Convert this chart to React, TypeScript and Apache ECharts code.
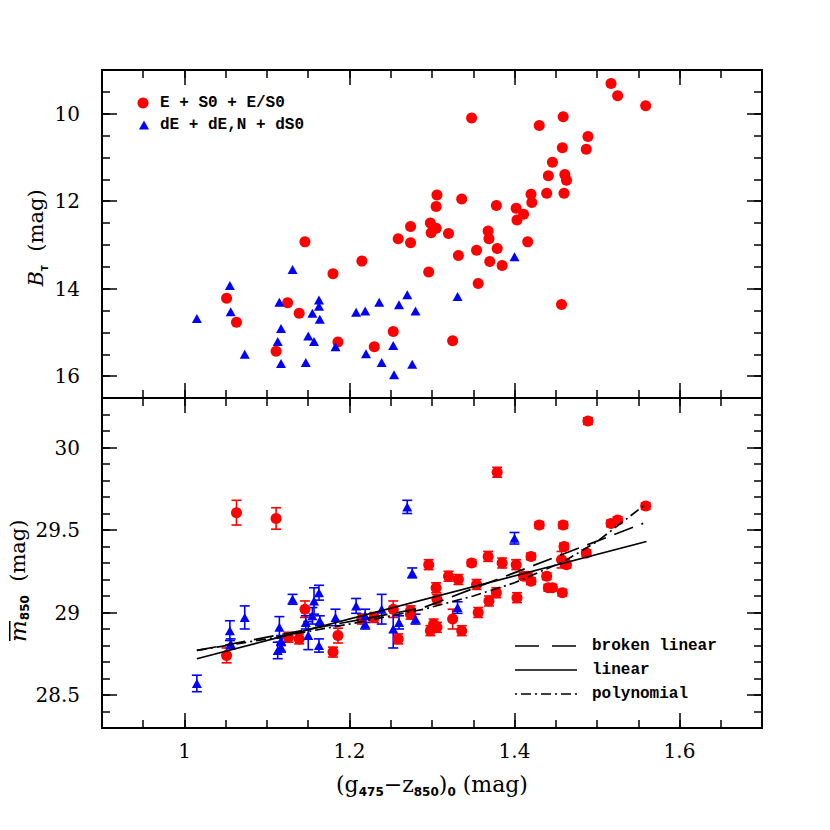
import React, { useEffect, useRef } from "react";
import * as echarts from "echarts";

// ---- tick values ----
const xMajorTicks = [1, 1.2, 1.4, 1.6];
const xMinorTicks = [0.95, 1.0, 1.05, 1.1, 1.15, 1.2, 1.25, 1.3, 1.35, 1.4, 1.45, 1.5, 1.55, 1.6, 1.65];
const btMajorTicks = [10, 12, 14, 16];
const btMinorTicks = [9.5, 10, 10.5, 11, 11.5, 12, 12.5, 13, 13.5, 14, 14.5, 15, 15.5, 16];
const mMajorTicks = [28.5, 29, 29.5, 30];
const mMinorTicks = [28.4, 28.5, 28.6, 28.7, 28.8, 28.9, 29.0, 29.1, 29.2, 29.3, 29.4, 29.5, 29.6, 29.7, 29.8, 29.9, 30.0, 30.1, 30.2];

// ---- top panel: B_T ----
const topRedX = [1.051, 1.063, 1.111, 1.125, 1.139, 1.146, 1.180, 1.186, 1.215, 1.230, 1.253, 1.259, 1.274, 1.274, 1.296, 1.298, 1.299, 1.305, 1.305, 1.306, 1.320, 1.325, 1.332, 1.336, 1.348, 1.354, 1.356, 1.368, 1.369, 1.370, 1.378, 1.379, 1.385, 1.402, 1.403, 1.411, 1.416, 1.420, 1.421, 1.430, 1.439, 1.441, 1.446, 1.457, 1.458, 1.459, 1.460, 1.461, 1.463, 1.487, 1.489, 1.517, 1.525, 1.559];
const topRedY = [14.22, 14.77, 15.43, 14.32, 14.56, 12.93, 13.66, 15.22, 13.37, 15.33, 14.98, 12.86, 12.58, 12.95, 13.62, 12.50, 12.72, 12.62, 12.12, 11.86, 12.74, 15.19, 13.24, 11.95, 10.10, 13.12, 13.88, 12.68, 12.86, 13.38, 12.10, 13.08, 13.47, 12.16, 12.43, 12.30, 12.93, 11.84, 12.03, 10.27, 11.82, 11.42, 11.11, 14.36, 10.78, 10.07, 11.82, 11.39, 11.52, 10.81, 10.52, 9.31, 9.59, 9.82];
const topBlueX = [1.015, 1.055, 1.056, 1.073, 1.113, 1.115, 1.117, 1.117, 1.131, 1.147, 1.150, 1.155, 1.157, 1.163, 1.163, 1.164, 1.183, 1.208, 1.219, 1.220, 1.236, 1.239, 1.253, 1.254, 1.260, 1.270, 1.276, 1.280, 1.331, 1.400];
const topBlueY = [14.68, 13.93, 14.53, 15.50, 15.21, 14.31, 14.91, 15.71, 13.56, 15.69, 15.08, 14.56, 15.21, 14.26, 14.40, 14.70, 15.33, 14.54, 14.51, 15.49, 14.31, 15.69, 15.30, 15.97, 14.37, 14.14, 15.73, 14.51, 14.18, 13.27];

// ---- bottom panel: m_850 ----
const botRedX = [1.051, 1.063, 1.111, 1.126, 1.139, 1.146, 1.180, 1.186, 1.215, 1.230, 1.253, 1.259, 1.274, 1.274, 1.296, 1.298, 1.302, 1.306, 1.305, 1.306, 1.320, 1.325, 1.332, 1.336, 1.348, 1.354, 1.356, 1.368, 1.369, 1.378, 1.379, 1.385, 1.402, 1.403, 1.411, 1.416, 1.420, 1.420, 1.430, 1.439, 1.441, 1.446, 1.457, 1.458, 1.459, 1.460, 1.461, 1.463, 1.487, 1.489, 1.517, 1.525, 1.559];
const botRedY = [28.74, 29.605, 29.57, 28.85, 28.84, 29.02, 28.76, 28.86, 28.96, 28.97, 29.02, 28.84, 29.01, 28.99, 29.29, 28.89, 28.93, 28.91, 29.15, 29.08, 29.22, 28.96, 29.20, 28.89, 29.30, 29.17, 29.00, 29.34, 29.07, 29.12, 29.85, 29.30, 29.29, 29.09, 29.22, 29.22, 29.34, 29.19, 29.53, 29.22, 29.15, 29.15, 29.32, 29.12, 29.53, 29.40, 29.30, 29.29, 29.36, 30.16, 29.54, 29.56, 29.645];
const botRedErr = [0.045, 0.075, 0.065, 0.03, 0.03, 0.05, 0.03, 0.045, 0.03, 0.03, 0.05, 0.03, 0.03, 0.03, 0.03, 0.03, 0.03, 0.03, 0.03, 0.03, 0.03, 0.06, 0.03, 0.03, 0.02, 0.03, 0.03, 0.03, 0.03, 0.03, 0.03, 0.03, 0.03, 0.03, 0.02, 0.02, 0.02, 0.02, 0.02, 0.02, 0.02, 0.02, 0.05, 0.02, 0.02, 0.02, 0.02, 0.02, 0.02, 0.02, 0.02, 0.02, 0.02];
const botBlueX = [1.015, 1.055, 1.056, 1.073, 1.113, 1.117, 1.115, 1.117, 1.131, 1.147, 1.150, 1.155, 1.157, 1.163, 1.164, 1.163, 1.183, 1.208, 1.219, 1.219, 1.239, 1.253, 1.260, 1.270, 1.276, 1.280, 1.331, 1.400];
const botBlueY = [28.57, 28.89, 28.81, 28.97, 28.77, 28.79, 28.91, 28.83, 29.08, 28.94, 28.86, 28.98, 29.07, 29.12, 28.95, 28.80, 28.97, 29.04, 28.98, 28.93, 29.02, 28.90, 28.94, 29.64, 29.24, 28.96, 29.03, 29.45];
const botBlueErr = [0.05, 0.06, 0.03, 0.07, 0.05, 0.03, 0.065, 0.03, 0.03, 0.04, 0.085, 0.05, 0.08, 0.045, 0.03, 0.04, 0.05, 0.045, 0.04, 0.03, 0.09, 0.115, 0.04, 0.04, 0.03, 0.03, 0.035, 0.035];

// ---- fit lines ----
const brokenX = [1.015, 1.29, 1.556];
const brokenY = [28.77, 29.03, 29.54];
const linearX = [1.015, 1.56];
const linearY = [28.72, 29.43];
const polyX = [1.015, 1.1, 1.2, 1.29, 1.35, 1.4, 1.46, 1.5, 1.56];
const polyY = [28.77, 28.84, 28.93, 29.02, 29.10, 29.18, 29.31, 29.43, 29.66];

const RED = "#ff0000";
const BLUE = "#0000ff";
const SERIF = "DejaVu Serif";
const MONO = "Liberation Mono";

const zip = (a: number[], b: number[]) => a.map((v, i) => [v, b[i]]);
const zip3 = (a: number[], b: number[], c: number[]) => a.map((v, i) => [v, b[i], c[i]]);

function makeAxis(
  dim: "x" | "y",
  gridIndex: number,
  position: string,
  min: number,
  max: number,
  ticks: number[],
  len: number,
  showLabel: boolean,
  inverse = false
) {
  return {
    type: "value",
    gridIndex,
    position,
    min,
    max,
    inverse,
    axisLine: { show: false, onZero: false },
    splitLine: { show: false },
    axisTick: {
      show: true,
      inside: true,
      length: len,
      customValues: ticks,
      lineStyle: { color: "#000", width: 1.5 },
    },
    axisLabel: showLabel
      ? {
          show: true,
          customValues: ticks,
          color: "#000",
          fontSize: 20,
          fontFamily: SERIF,
          margin: dim === "x" ? 13 : 22,
        }
      : { show: false },
  };
}

const errSeries = (data: number[][], color: string) => ({
  type: "custom",
  xAxisIndex: 4,
  yAxisIndex: 4,
  z: 2,
  data,
  encode: { x: 0, y: 1 },
  renderItem: (_p: any, api: any) => {
    const x = api.value(0);
    const y = api.value(1);
    const e = api.value(2);
    const p1 = api.coord([x, y + e]);
    const p2 = api.coord([x, y - e]);
    const hw = 5;
    const st = { stroke: color, lineWidth: 1.6 };
    return {
      type: "group",
      children: [
        { type: "line", shape: { x1: p1[0], y1: p1[1], x2: p2[0], y2: p2[1] }, style: st },
        { type: "line", shape: { x1: p1[0] - hw, y1: p1[1], x2: p1[0] + hw, y2: p1[1] }, style: st },
        { type: "line", shape: { x1: p2[0] - hw, y1: p2[1], x2: p2[0] + hw, y2: p2[1] }, style: st },
      ],
    };
  },
});

export default function App() {
  const ref = useRef<HTMLDivElement>(null);
  useEffect(() => {
    if (!ref.current) return;
    const chart = echarts.init(ref.current, undefined, { renderer: "svg" });

    const xAxes: any[] = [];
    const yAxes: any[] = [];
    [0, 1].forEach((g) => {
      xAxes.push(makeAxis("x", g, "bottom", 0.9, 1.7, xMajorTicks, 15, g === 1));
      xAxes.push(makeAxis("x", g, "bottom", 0.9, 1.7, xMinorTicks, 8, false));
      xAxes.push(makeAxis("x", g, "top", 0.9, 1.7, xMajorTicks, 15, false));
      xAxes.push(makeAxis("x", g, "top", 0.9, 1.7, xMinorTicks, 8, false));
    });
    // top panel y (inverted)
    yAxes.push(makeAxis("y", 0, "left", 9, 16.5, btMajorTicks, 15, true, true));
    yAxes.push(makeAxis("y", 0, "left", 9, 16.5, btMinorTicks, 8, false, true));
    yAxes.push(makeAxis("y", 0, "right", 9, 16.5, btMajorTicks, 15, false, true));
    yAxes.push(makeAxis("y", 0, "right", 9, 16.5, btMinorTicks, 8, false, true));
    // bottom panel y
    yAxes.push(makeAxis("y", 1, "left", 28.3, 30.3, mMajorTicks, 15, true));
    yAxes.push(makeAxis("y", 1, "left", 28.3, 30.3, mMinorTicks, 8, false));
    yAxes.push(makeAxis("y", 1, "right", 28.3, 30.3, mMajorTicks, 15, false));
    yAxes.push(makeAxis("y", 1, "right", 28.3, 30.3, mMinorTicks, 8, false));

    const lineS = (xs: number[], ys: number[], type: any) => ({
      type: "line",
      xAxisIndex: 4,
      yAxisIndex: 4,
      data: zip(xs, ys),
      showSymbol: false,
      symbol: "none",
      z: 5,
      lineStyle: { color: "#000", width: 1.7, type },
    });

    const subStyle = { fontSize: 12, fontFamily: "DejaVu Sans", fontWeight: "bold", lineHeight: 12, verticalAlign: "bottom", fill: "#000", color: "#000" };
    const legendFont = `bold 16px "${MONO}"`;

    chart.setOption({
      animation: false,
      backgroundColor: "#fff",
      grid: [
        { left: 102, top: 70, width: 660, height: 328, show: true, borderColor: "#000", borderWidth: 2, backgroundColor: "transparent" },
        { left: 102, top: 398, width: 660, height: 330, show: true, borderColor: "#000", borderWidth: 2, backgroundColor: "transparent" },
      ],
      xAxis: xAxes,
      yAxis: yAxes,
      series: [
        { type: "scatter", xAxisIndex: 0, yAxisIndex: 0, data: zip(topRedX, topRedY), symbol: "circle", symbolSize: 11, itemStyle: { color: RED, opacity: 1 }, z: 3 },
        { type: "scatter", xAxisIndex: 0, yAxisIndex: 0, data: zip(topBlueX, topBlueY), symbol: "triangle", symbolSize: [10, 9], itemStyle: { color: BLUE, opacity: 1 }, z: 3 },
        errSeries(zip3(botRedX, botRedY, botRedErr), RED),
        errSeries(zip3(botBlueX, botBlueY, botBlueErr), BLUE),
        { type: "scatter", xAxisIndex: 4, yAxisIndex: 4, data: zip(botRedX, botRedY), symbol: "circle", symbolSize: 11, itemStyle: { color: RED, opacity: 1 }, z: 3 },
        { type: "scatter", xAxisIndex: 4, yAxisIndex: 4, data: zip(botBlueX, botBlueY), symbol: "triangle", symbolSize: [10, 9], itemStyle: { color: BLUE, opacity: 1 }, z: 3 },
        lineS(brokenX, brokenY, [20, 9]),
        lineS(linearX, linearY, "solid"),
        lineS(polyX, polyY, [10, 4, 2, 4]),
      ],
      graphic: [
        // top legend
        { type: "circle", shape: { cx: 143, cy: 103, r: 5.5 }, style: { fill: RED } },
        { type: "polygon", shape: { points: [[144, 120.5], [149, 129.5], [139, 129.5]] }, style: { fill: BLUE } },
        { type: "text", x: 160, y: 103, style: { text: "E + S0 + E/S0", font: legendFont, fill: "#000", verticalAlign: "middle", align: "left" } },
        { type: "text", x: 160, y: 125, style: { text: "dE + dE,N + dS0", font: legendFont, fill: "#000", verticalAlign: "middle", align: "left" } },
        // bottom legend
        { type: "line", shape: { x1: 515, y1: 646, x2: 577, y2: 646 }, style: { stroke: "#000", lineWidth: 1.7, lineDash: [24, 13] } },
        { type: "line", shape: { x1: 515, y1: 670, x2: 577, y2: 670 }, style: { stroke: "#000", lineWidth: 1.7 } },
        { type: "line", shape: { x1: 515, y1: 694, x2: 577, y2: 694 }, style: { stroke: "#000", lineWidth: 1.7, lineDash: [2, 4, 10, 4] } },
        { type: "text", x: 592, y: 646, style: { text: "broken linear", font: legendFont, fill: "#000", verticalAlign: "middle", align: "left" } },
        { type: "text", x: 592, y: 670, style: { text: "linear", font: legendFont, fill: "#000", verticalAlign: "middle", align: "left" } },
        { type: "text", x: 592, y: 694, style: { text: "polynomial", font: legendFont, fill: "#000", verticalAlign: "middle", align: "left" } },
        // x title
        {
          type: "text",
          x: 432,
          y: 784,
          style: {
            text: "{n|(g}{s|475}{n|−z}{s|850}{n|)}{s|0}{n| (mag)}",
            align: "center",
            verticalAlign: "middle",
            rich: {
              n: { fontSize: 22, fontFamily: SERIF, lineHeight: 28, fill: "#000", color: "#000" },
              s: subStyle,
            },
          },
        },
        // top y title
        {
          type: "text",
          x: 36,
          y: 238,
          rotation: Math.PI / 2,
          style: {
            text: "{i|B}{s|T}{n|  (mag)}",
            align: "center",
            verticalAlign: "middle",
            rich: {
              i: { fontSize: 21, fontFamily: SERIF, fontStyle: "italic", lineHeight: 26, fill: "#000", color: "#000" },
              n: { fontSize: 21, fontFamily: SERIF, lineHeight: 26, fill: "#000", color: "#000" },
              s: { ...subStyle, fontSize: 9 },
            },
          },
        },
        // bottom y title
        {
          type: "group",
          x: 18,
          y: 642,
          rotation: Math.PI / 2,
          children: [
            {
              type: "text",
              x: 0,
              y: 0,
              style: {
                text: "{i|m}{s|850}{n|  (mag)}",
                align: "left",
                verticalAlign: "middle",
                rich: {
                  i: { fontSize: 23, fontFamily: SERIF, fontStyle: "italic", lineHeight: 26, fill: "#000", color: "#000" },
                  n: { fontSize: 21, fontFamily: SERIF, lineHeight: 26, fill: "#000", color: "#000" },
                  s: subStyle,
                },
              },
            },
            { type: "rect", shape: { x: 1, y: -9, width: 20, height: 1.5 }, style: { fill: "#000" } },
          ],
        },
      ],
    });
    return () => chart.dispose();
  }, []);
  return <div ref={ref} style={{ position: "fixed", left: 0, top: 0, width: 830, height: 830 }} />;
}
